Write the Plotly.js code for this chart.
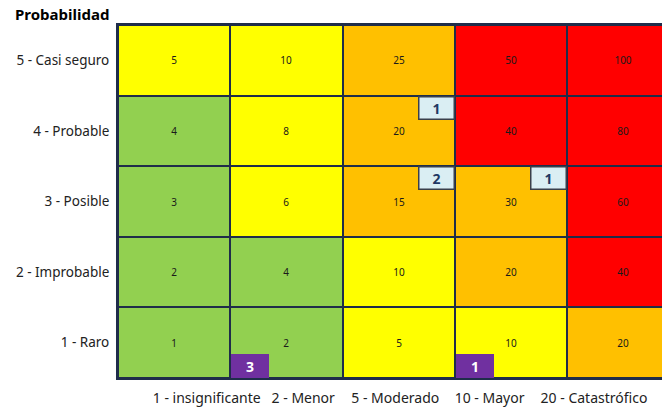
<!DOCTYPE html>
<html>
<head>
<meta charset="utf-8">
<script src="https://cdn.plot.ly/plotly-3.0.1.min.js"></script>
<style>html,body{margin:0;padding:0;background:#fff;}#chart{width:662px;height:409px;}</style>
</head>
<body>
<div id="chart"></div>
<script>
// Impact categories (columns) and probability categories (rows, bottom to top)
const impactLabels = ["1 - insignificante", "2 - Menor", "5 - Moderado", "10 - Mayor", "20 - Catastrófico"];
const probLabels = ["1 - Raro", "2 - Improbable", "3 - Posible", "4 - Probable", "5 - Casi seguro"];

// Cell risk values, rows from probability 1 (bottom) to 5 (top)
const riskValues = [
  [1, 2, 5, 10, 20],
  [2, 4, 10, 20, 40],
  [3, 6, 15, 30, 60],
  [4, 8, 20, 40, 80],
  [5, 10, 25, 50, 100]
];
// Risk level per cell: 0 green, 1 yellow, 2 orange, 3 red
const riskLevels = [
  [0, 0, 1, 1, 2],
  [0, 0, 1, 2, 3],
  [0, 1, 2, 2, 3],
  [0, 1, 2, 3, 3],
  [1, 1, 2, 3, 3]
];
const levelColors = ["#92D050", "#FFFF00", "#FFC000", "#FF0000"];

// Count markers placed in cells (column index, row index, count)
const blueCountCol = [2, 2, 3];
const blueCountRow = [3, 2, 2];
const blueCountVal = [1, 2, 1];
const purpleCountCol = [1, 3];
const purpleCountRow = [0, 0];
const purpleCountVal = [3, 1];

const colIdx = [0, 1, 2, 3, 4];
const rowIdx = [0, 1, 2, 3, 4];

const colorscale = [];
levelColors.forEach((c, i) => {
  colorscale.push([i / levelColors.length, c]);
  colorscale.push([(i + 1) / levelColors.length, c]);
});

const FONT = "Noto Sans, Open Sans, sans-serif";
const W = 662, H = 409, ML = 118, MR = 0, MT = 25, MB = 31;
const PW = W - ML - MR, PH = H - MT - MB;

const trace = {
  type: "heatmap",
  x: colIdx,
  y: rowIdx,
  z: riskLevels,
  zmin: -0.5,
  zmax: 3.5,
  text: riskValues,
  texttemplate: "%{text}",
  textfont: {family: FONT, size: 10, color: "#1a1a1a"},
  colorscale: colorscale,
  showscale: false,
  xgap: 2,
  ygap: 2,
  hoverinfo: "skip"
};

const annotations = [];
blueCountVal.forEach((v, i) => {
  annotations.push({
    x: blueCountCol[i] + 0.5, y: blueCountRow[i] + 0.5,
    xref: "x", yref: "y", xanchor: "right", yanchor: "top",
    text: "<b>" + v + "</b>", showarrow: false,
    font: {family: FONT, size: 14, color: "#1F3864"},
    bgcolor: "#DAEEF3", bordercolor: "#3A3F4A", borderwidth: 1.5, borderpad: 0,
    width: 34, height: 21
  });
});
purpleCountVal.forEach((v, i) => {
  annotations.push({
    x: purpleCountCol[i] - 0.5 + 0.01, y: purpleCountRow[i] - 0.5,
    xref: "x", yref: "y", xanchor: "left", yanchor: "bottom",
    text: "<b>" + v + "</b>", showarrow: false,
    font: {family: FONT, size: 14, color: "#FFFFFF"},
    bgcolor: "#7030A0", borderwidth: 0, borderpad: 0,
    width: 38, height: 24
  });
});
annotations.push({
  x: (13 - ML) / PW, y: 1 + (MT - 14) / PH, xref: "paper", yref: "paper",
  text: "<b>Probabilidad</b>",
  showarrow: false, font: {family: FONT, size: 15, color: "#000"},
  xanchor: "left", yanchor: "middle"
});

// x tick positions for the impact labels (in column units)
const impactTickPos = [0.29, 1.15, 1.97, 2.81, 3.74];

const layout = {
  width: W, height: H,
  margin: {l: ML, r: MR, t: MT, b: MB, pad: 0},
  paper_bgcolor: "#FFFFFF",
  plot_bgcolor: "#1F2D4A",
  xaxis: {
    range: [-0.5, 4.346], showgrid: false, zeroline: false,
    tickvals: impactTickPos, ticktext: impactLabels, ticks: "",
    ticklabelstandoff: 6,
    tickfont: {family: FONT, size: 14, color: "#222"},
    showline: true, linecolor: "#1F2D4A", linewidth: 2, mirror: true,
    fixedrange: true
  },
  yaxis: {
    range: [-0.5, 4.5], showgrid: false, zeroline: false,
    tickvals: rowIdx, ticktext: probLabels, ticks: "",
    ticklabelstandoff: 4,
    tickfont: {family: FONT, size: 13.5, color: "#222"},
    showline: true, linecolor: "#1F2D4A", linewidth: 2, mirror: true,
    fixedrange: true
  },
  annotations: annotations,
  showlegend: false
};

Plotly.newPlot("chart", [trace], layout, {staticPlot: true, displayModeBar: false});
</script>
</body>
</html>
